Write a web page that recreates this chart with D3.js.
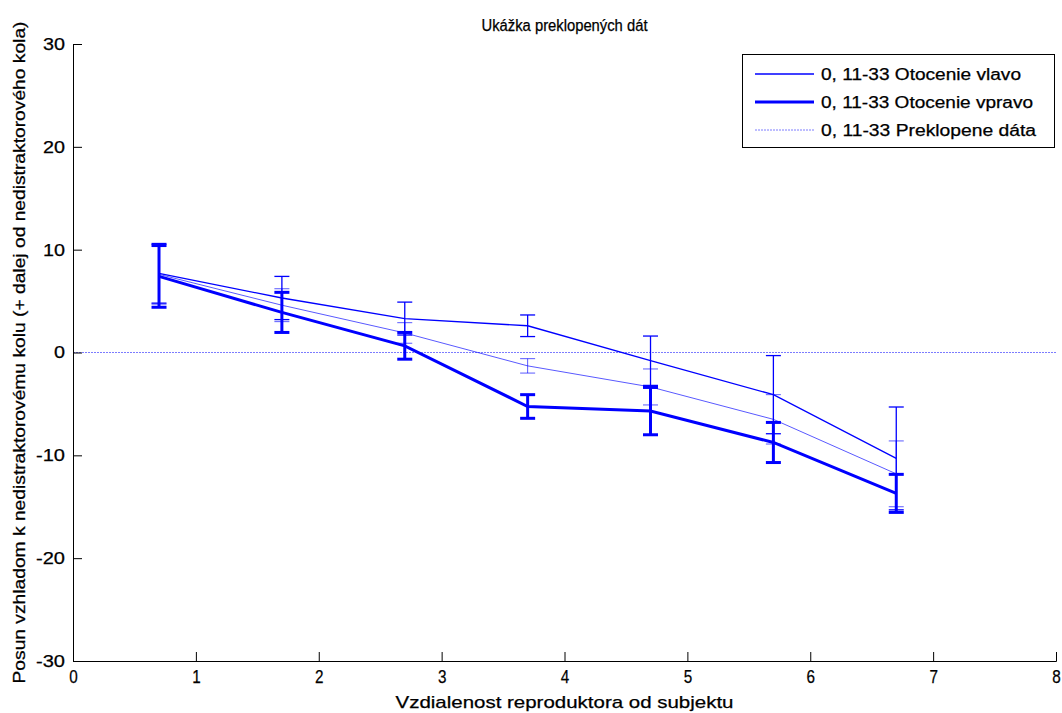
<!DOCTYPE html>
<html>
<head>
<meta charset="utf-8">
<script src="https://cdn.jsdelivr.net/npm/d3@7"></script>
<style>
    body { margin: 0; background: #fff; }
    svg { display: block; font-family: "Liberation Sans", Arial, sans-serif; }
    svg text { stroke: #000; stroke-width: 0.25px; }
</style>
</head>
<body>
<svg id="chart" width="1062" height="713"></svg>
<script>
// distances (x) shared by all series
const distances = [0.7, 1.7, 2.7, 3.7, 4.7, 5.7, 6.7];

const vlavoMean = [7.7, 5.3, 3.3, 2.6, -0.8, -4.1, -10.3];
const vlavoErr = [2.9, 2.1, 1.6, 1.05, 2.4, 3.8, 5.0];

const vpravoMean = [7.4, 3.9, 0.65, -5.25, -5.7, -8.75, -13.7];
const vpravoErr = [3.0, 1.95, 1.3, 1.15, 2.3, 1.95, 1.85];

const preklopeneMean = [7.6, 4.6, 1.9, -1.3, -3.35, -6.5, -11.8];
const preklopeneErr = [2.9, 1.6, 1.0, 0.7, 1.75, 2.4, 3.2];

const xTicks = [0, 1, 2, 3, 4, 5, 6, 7, 8];
const yTicks = [-30, -20, -10, 0, 10, 20, 30];

const legendLabels = [
    "0, 11-33 Otocenie vlavo",
    "0, 11-33 Otocenie vpravo",
    "0, 11-33 Preklopene dáta"
];

const svg = d3.select("#chart");

const x = d3.scaleLinear().domain([0, 8]).range([73, 1056]);
const y = d3.scaleLinear().domain([-30, 30]).range([661, 44]);

// zero reference line (dotted, light blue)
svg.append("line")
    .attr("x1", x(0)).attr("x2", x(8))
    .attr("y1", y(0)).attr("y2", y(0))
    .attr("stroke", "#7c7cff")
    .attr("stroke-width", 1)
    .attr("stroke-dasharray", "2,1");

const series = [
    { mean: vlavoMean, err: vlavoErr, width: 1.3, opacity: 1 },
    { mean: vpravoMean, err: vpravoErr, width: 3, opacity: 1 },
    { mean: preklopeneMean, err: preklopeneErr, width: 1, opacity: 0.65 }
];

const line = d3.line()
    .x(d => x(d.x))
    .y(d => y(d.y));

series.forEach(s => {
    const pts = distances.map((d, i) => ({ x: d, y: s.mean[i], e: s.err[i] }));
    const g = svg.append("g")
        .attr("stroke", "#0000ff")
        .attr("stroke-width", s.width)
        .attr("stroke-opacity", s.opacity)
        .attr("fill", "none");

    g.append("path").attr("d", line(pts));

    const bars = g.selectAll(".eb")
        .data(pts)
        .enter().append("g")
        .attr("class", "eb");
    bars.append("line")
        .attr("x1", d => x(d.x)).attr("x2", d => x(d.x))
        .attr("y1", d => y(d.y + d.e)).attr("y2", d => y(d.y - d.e));
    bars.append("line")
        .attr("x1", d => x(d.x) - 7.5).attr("x2", d => x(d.x) + 7.5)
        .attr("y1", d => y(d.y + d.e)).attr("y2", d => y(d.y + d.e));
    bars.append("line")
        .attr("x1", d => x(d.x) - 7.5).attr("x2", d => x(d.x) + 7.5)
        .attr("y1", d => y(d.y - d.e)).attr("y2", d => y(d.y - d.e));
});

// axes (MATLAB style, ticks pointing inward, no box)
const xAxis = svg.append("g")
    .attr("transform", `translate(0,${y(-30)})`)
    .call(d3.axisBottom(x).tickValues(xTicks).tickSize(-9).tickPadding(9).tickFormat(d => String(d)));
const yAxis = svg.append("g")
    .attr("transform", `translate(${x(0)},0)`)
    .call(d3.axisLeft(y).tickValues(yTicks).tickSize(-9).tickPadding(8).tickFormat(d => String(d)));

[xAxis, yAxis].forEach(a => {
    a.attr("font-family", "'Liberation Sans', Arial, sans-serif");
    a.select(".domain").attr("stroke", "#000").attr("stroke-width", 1);
    a.selectAll(".tick line").attr("stroke", "#000");
    a.selectAll(".tick text").attr("fill", "#000");
});
xAxis.attr("font-size", 19);
yAxis.attr("font-size", 17);
// x tick digits are tall and narrow in the original, y tick labels wide
xAxis.selectAll(".tick text")
    .attr("textLength", 8.5)
    .attr("lengthAdjust", "spacingAndGlyphs");
yAxis.selectAll(".tick text")
    .attr("textLength", d => (d < 0 ? 7 : 0) + (d === 0 ? 11 : 22))
    .attr("lengthAdjust", "spacingAndGlyphs");

svg.append("text")
    .attr("x", (x(0) + x(8)) / 2)
    .attr("y", 31)
    .attr("text-anchor", "middle")
    .attr("font-size", 16)
    .attr("textLength", 166)
    .attr("lengthAdjust", "spacingAndGlyphs")
    .text("Ukážka preklopených dát");

svg.append("text")
    .attr("x", (x(0) + x(8)) / 2)
    .attr("y", 708)
    .attr("text-anchor", "middle")
    .attr("font-size", 17)
    .attr("textLength", 338)
    .attr("lengthAdjust", "spacingAndGlyphs")
    .text("Vzdialenost reproduktora od subjektu");

svg.append("text")
    .attr("transform", `translate(25,${(y(-30) + y(30)) / 2}) rotate(-90)`)
    .attr("text-anchor", "middle")
    .attr("font-size", 17)
    .attr("textLength", 662)
    .attr("lengthAdjust", "spacingAndGlyphs")
    .text("Posun vzhladom k nedistraktorovému kolu (+ dalej od nedistraktorového kola)");

// legend
const legend = svg.append("g").attr("class", "legend");
legend.append("rect")
    .attr("x", 742.5).attr("y", 54.5)
    .attr("width", 312).attr("height", 93)
    .attr("fill", "#fff")
    .attr("stroke", "#000");

const legendStyles = [
    { width: 1.3, color: "#0000ff", dash: null, len: 200 },
    { width: 3, color: "#0000ff", dash: null, len: 212 },
    { width: 1, color: "#7c7cff", dash: "2,1", len: 215 }
];

const legendItem = legend.selectAll(".legend-item")
    .data(legendLabels)
    .enter().append("g")
    .attr("class", "legend-item")
    .attr("transform", (d, i) => `translate(0, ${74 + i * 28})`);

legendItem.append("line")
    .attr("x1", 755).attr("x2", 814)
    .attr("y1", 0).attr("y2", 0)
    .attr("stroke", (d, i) => legendStyles[i].color)
    .attr("stroke-width", (d, i) => legendStyles[i].width)
    .attr("stroke-dasharray", (d, i) => legendStyles[i].dash);

legendItem.append("text")
    .attr("x", 821)
    .attr("y", 0)
    .attr("dy", "0.36em")
    .attr("font-size", 16)
    .attr("textLength", (d, i) => legendStyles[i].len)
    .attr("lengthAdjust", "spacingAndGlyphs")
    .text(d => d);
</script>
</body>
</html>
